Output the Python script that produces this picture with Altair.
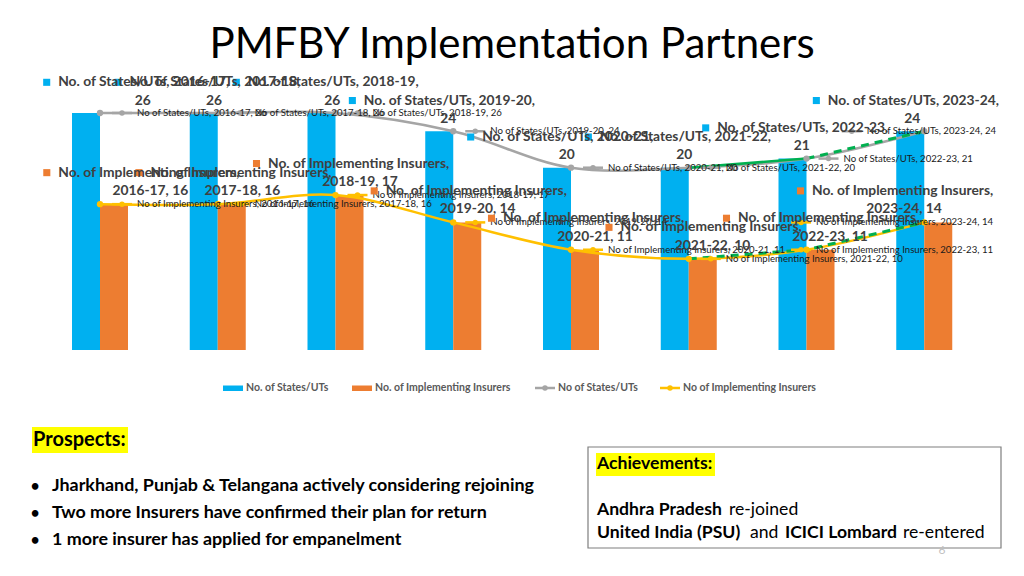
import altair as alt
import pandas as pd

# ---------------- data ----------------
years = ["2016-17", "2017-18", "2018-19", "2019-20", "2020-21", "2021-22", "2022-23", "2023-24"]
states = [26, 26, 26, 24, 20, 20, 21, 24]
insurers = [16, 16, 17, 14, 11, 10, 11, 14]

# ---------------- layout (pixels) ----------------
W, H = 1008, 560
STEP = 117.75          # px per category
X0 = 92.0              # px of first category centre
UNIT = 9.115           # px per unit value
BASE = 342.0           # px of zero line
BAR = 28.0
FONT = "Lato"
BLUE, ORANGE, GREY, YELLOW, GREEN = "#00B0F0", "#ED7D31", "#A5A5A5", "#FFC000", "#00B050"
LABEL = "#404040"

# label placements, px relative to (category centre, value point)
st_bar_cx = [42.7, -3.75, -3.2, -4.9, -4.3, -4.4, -4.8, -11.9]
in_bar_cx = [50.3, 24.65, 24.5, 24.45, 24.0, 23.75, 23.5, -20.25]
st_line_dx = [37, 37, 37, 37, 37, 37, 37, -57.5]
in_line_dx = [37, 37, 37, 37, 37, 37, 9.5, -108.2]

xs = alt.Scale(domain=[-X0 / STEP, (W - X0) / STEP], nice=False, zero=False)
ys = alt.Scale(domain=[-(H - BASE) / UNIT, BASE / UNIT], nice=False, zero=False)


def X(f):
    return alt.X(f, type="quantitative", scale=xs, axis=None)


def Y(f):
    return alt.Y(f, type="quantitative", scale=ys, axis=None)


df = pd.DataFrame({"year": years, "idx": list(range(len(years))),
                   "states": states, "insurers": insurers})
bw = BAR / STEP

rows = []
for i, (yr, s, n) in enumerate(zip(years, states, insurers)):
    # bar labels
    c = i + st_bar_cx[i] / STEP
    st = c - 84.5 / STEP
    rows.append(dict(kind="sb", x=st, xs=st - 11.5 / STEP, xc=c,
                     y1=s + 30.7 / UNIT, y2=s + 12.4 / UNIT,
                     t1=f"No. of States/UTs, {yr},", t2=f"{s}"))
    c = i + in_bar_cx[i] / STEP
    st = c - 92.0 / STEP
    rows.append(dict(kind="ib", x=st, xs=st - 11.5 / STEP, xc=c,
                     y1=n + 31.5 / UNIT, y2=n + 13.2 / UNIT,
                     t1="No. of Implementing Insurers,", t2=f"{yr}, {n}"))
    # line labels
    tx = i + st_line_dx[i] / STEP
    rows.append(dict(kind="sl", x=tx, xs=tx - 15 / STEP, xa=tx - 25 / STEP, xb=tx - 5 / STEP,
                     y1=s, t1=f"No of States/UTs, {yr}, {s}"))
    tx = i + in_line_dx[i] / STEP
    rows.append(dict(kind="il", x=tx, xs=tx - 15 / STEP, xa=tx - 25 / STEP, xb=tx - 5 / STEP,
                     y1=n, t1=f"No of Implementing Insurers, {yr}, {n}"))
lab = pd.DataFrame(rows)

base = alt.Chart(df)
layers = []

# bars
layers.append(base.transform_calculate(a=f"datum.idx - {bw}", b="datum.idx")
              .mark_bar(color=BLUE)
              .encode(x=X("a"), x2="b:Q", y=Y("states"), y2=alt.datum(0)))
layers.append(base.transform_calculate(a="datum.idx", b=f"datum.idx + {bw}")
              .mark_bar(color=ORANGE)
              .encode(x=X("a"), x2="b:Q", y=Y("insurers"), y2=alt.datum(0)))

# smooth lines
layers.append(base.mark_line(color=GREY, strokeWidth=2.5, interpolate="catmull-rom")
              .encode(x=X("idx"), y=Y("states")))
layers.append(base.mark_line(color=YELLOW, strokeWidth=2.5, interpolate="catmull-rom")
              .encode(x=X("idx"), y=Y("insurers")))
# green projection lines
layers.append(base.transform_filter("datum.idx >= 5 && datum.idx <= 6")
              .mark_line(color=GREEN, strokeWidth=2.5)
              .encode(x=X("idx"), y=Y("states")))
layers.append(base.transform_filter("datum.idx >= 6")
              .mark_line(color=GREEN, strokeWidth=3, strokeDash=[8, 6])
              .encode(x=X("idx"), y=Y("states")))
layers.append(base.transform_filter("datum.idx >= 5")
              .mark_line(color=GREEN, strokeWidth=3, strokeDash=[8, 6])
              .encode(x=X("idx"), y=Y("insurers")))
# points
layers.append(base.mark_circle(color=GREY, size=40, opacity=1).encode(x=X("idx"), y=Y("states")))
layers.append(base.mark_circle(color=YELLOW, size=40, opacity=1).encode(x=X("idx"), y=Y("insurers")))

# line-label keys and texts
labc = alt.Chart(lab)
for kind, col in (("sl", GREY), ("il", YELLOW)):
    d = labc.transform_filter(f"datum.kind == '{kind}'")
    layers.append(d.mark_rule(color=col, strokeWidth=2.5).encode(x=X("xa"), x2="xb:Q", y=Y("y1")))
    layers.append(d.mark_circle(color=col, size=30, opacity=1).encode(x=X("xs"), y=Y("y1")))
    layers.append(d.mark_text(align="left", baseline="middle", font=FONT, fontSize=9.6, color="#1a1a1a")
                  .encode(x=X("x"), y=Y("y1"), text="t1:N"))

# bar labels
for kind, col in (("sb", BLUE), ("ib", ORANGE)):
    d = labc.transform_filter(f"datum.kind == '{kind}'")
    layers.append(d.mark_square(color=col, size=50, opacity=1).encode(x=X("xs"), y=Y("y1")))
    layers.append(d.mark_text(align="left", baseline="middle", font=FONT, fontSize=13.8,
                              fontWeight="bold", color=LABEL)
                  .encode(x=X("x"), y=Y("y1"), text="t1:N"))
    layers.append(d.mark_text(align="center", baseline="middle", font=FONT, fontSize=13.8,
                              fontWeight="bold", color=LABEL)
                  .encode(x=X("xc"), y=Y("y2"), text="t2:N"))

# ---------------- decorations (page pixel positions) ----------------
ONE = alt.Data(values=[{"k": 1}])


def T(s, x, y, size, weight="normal", color="#000000", align="left"):
    return (alt.Chart(ONE).mark_text(text=s, fontSize=size, fontWeight=weight, color=color,
                                     align=align, baseline="middle", font=FONT)
            .encode(x=alt.value(x - 8), y=alt.value(y - 8)))


def R(x1, x2, y1, y2, fill=None, stroke=None, sw=1):
    kw = {}
    if fill is not None:
        kw["fill"] = fill
    else:
        kw["fillOpacity"] = 0
        kw["fill"] = "#ffffff"
    if stroke is not None:
        kw["stroke"] = stroke
        kw["strokeWidth"] = sw
    return (alt.Chart(ONE).mark_rect(**kw)
            .encode(x=alt.value(x1 - 8), x2=alt.value(x2 - 8), y=alt.value(y1 - 8), y2=alt.value(y2 - 8)))


def L(x1, x2, y, col):
    return (alt.Chart(ONE).mark_rule(color=col, strokeWidth=2.5)
            .encode(x=alt.value(x1 - 8), x2=alt.value(x2 - 8), y=alt.value(y - 8)))


def P(x, y, col):
    return (alt.Chart(ONE).mark_circle(color=col, size=30, opacity=1)
            .encode(x=alt.value(x - 8), y=alt.value(y - 8)))


deco = []
deco.append(T("PMFBY Implementation Partners", 512, 45, 42, align="center"))
# legend
deco += [R(223, 243, 385.5, 391, fill=BLUE), T("No. of States/UTs", 246, 388, 10.5, "bold", "#595959"),
         R(352, 372, 385.5, 391, fill=ORANGE), T("No. of Implementing Insurers", 375, 388, 10.5, "bold", "#595959"),
         L(535, 555, 388, GREY), P(545, 388, GREY), T("No of States/UTs", 558, 388, 10.5, "bold", "#595959"),
         L(660, 680, 388, YELLOW), P(670, 388, YELLOW), T("No of Implementing Insurers", 683, 388, 10.5, "bold", "#595959")]
# prospects
deco += [R(32, 128, 427, 453, fill="#FFFF00"), T("Prospects:", 33, 440, 20, "bold")]
bul = ["Jharkhand, Punjab & Telangana actively considering rejoining",
       "Two more Insurers have confirmed their plan for return",
       "1 more insurer has applied for empanelment"]
for k, (s, yy) in enumerate(zip(bul, [486, 513, 540])):
    deco += [T("\u2022", 35, yy, 15, "bold", align="center"), T(s, 52, yy, 17.9, "bold")]
# achievements
deco += [R(588, 1001, 447, 548, stroke="#7F7F7F", sw=1.2),
         R(596, 715, 453, 476, fill="#FFFF00"), T("Achievements:", 597, 464, 17.6, "bold"),
         T("Andhra Pradesh", 597, 510, 17.6, "bold"), T("re-joined", 729, 510, 17.6),
         T("United India (PSU)", 597, 533, 17.6, "bold"), T("and", 750, 533, 17.6),
         T("ICICI Lombard", 785, 533, 17.6, "bold"), T("re-entered", 903, 533, 17.6),
         T("6", 942, 550, 12, color="#BFBFBF", align="center")]

chart = (alt.layer(*layers, *deco)
         .properties(width=W, height=H, padding=0, autosize="none", background="white")
         .configure_view(stroke=None))

chart.save("out.html", embed_options={"renderer": "svg", "actions": False})
